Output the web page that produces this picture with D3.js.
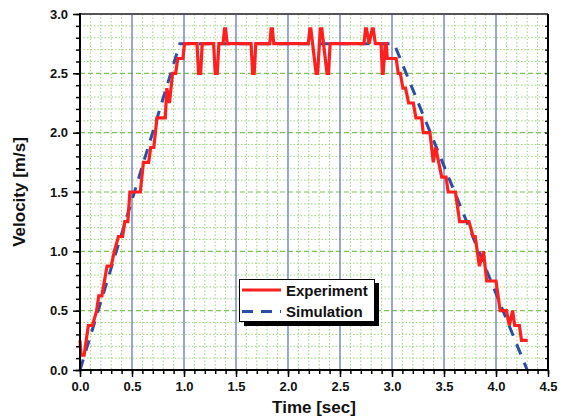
<!DOCTYPE html>
<html><head><meta charset="utf-8">
<script src="https://cdn.jsdelivr.net/npm/d3@7"></script>
<style>body{margin:0;background:#fff}svg{display:block;font-family:"Liberation Sans",Arial,sans-serif}</style>
</head><body><div id="chart"></div>
<script>
const expT = [0.00,0.01,0.04,0.06,0.08,0.12,0.16,0.18,0.21,0.26,0.30,0.33,0.37,0.41,0.43,0.46,0.48,0.58,0.61,0.66,0.68,0.71,0.74,0.82,0.835,0.86,0.89,0.92,0.94,0.99,1.005,
 1.125,1.14,1.16,1.175,1.285,1.30,1.32,1.335,1.375,1.39,1.40,1.415,1.645,1.66,1.675,1.69,1.825,1.838,1.85,1.863,
 2.195,2.21,2.22,2.27,2.285,2.31,2.325,2.375,2.39,2.405,2.73,2.745,2.755,2.78,2.81,2.82,2.84,2.895,2.907,2.915,2.935,2.945,2.955,
 3.04,3.06,3.08,3.105,3.13,3.16,3.205,3.23,3.285,3.30,3.365,3.397,3.42,3.478,3.52,3.54,3.61,3.65,3.74,3.78,3.80,3.84,3.88,3.91,4.00,4.04,4.10,4.128,4.16,4.18,4.225,4.245,4.305];
const expV = [0.25,0.125,0.125,0.25,0.375,0.375,0.5,0.625,0.625,0.875,0.875,1.0,1.125,1.125,1.25,1.25,1.5,1.5,1.75,1.75,1.875,1.875,2.125,2.125,2.375,2.25,2.5,2.5,2.625,2.625,2.75,
 2.75,2.5,2.5,2.75,2.75,2.5,2.5,2.75,2.75,2.875,2.875,2.75,2.75,2.5,2.5,2.75,2.75,2.875,2.875,2.75,
 2.75,2.875,2.875,2.5,2.5,2.875,2.875,2.5,2.5,2.75,2.75,2.875,2.875,2.75,2.875,2.875,2.75,2.75,2.5,2.5,2.75,2.75,2.625,
 2.625,2.5,2.5,2.375,2.375,2.25,2.25,2.125,2.125,2.0,2.0,1.75,1.875,1.625,1.625,1.5,1.5,1.25,1.25,1.125,1.125,0.875,1.0,0.75,0.75,0.5,0.5,0.375,0.5,0.375,0.375,0.25,0.25];
const simT = [0, 0.96, 3.02, 4.3];
const simV = [0, 2.75, 2.75, 0];
const xTicks = [0,0.5,1,1.5,2,2.5,3,3.5,4,4.5];
const yTicks = [0,0.5,1,1.5,2,2.5,3];
const minorStep = 0.1;
const seriesNames = ["Experiment","Simulation"];

const W=571,H=417, L=80,R=548,T=14,B=370;
const svg=d3.select("#chart").append("svg").attr("width",W).attr("height",H);
const x=d3.scaleLinear().domain([0,4.5]).range([L,R]);
const y=d3.scaleLinear().domain([0,3]).range([B,T]);

const xMinor=d3.range(0,4.5001,minorStep).map(v=>+v.toFixed(2));
const yMinor=d3.range(0,3.0001,minorStep).map(v=>+v.toFixed(2));
const isMajor=v=>Math.abs(v*2-Math.round(v*2))<1e-6;

const g=svg.append("g");
// minor grid
g.selectAll(".vx").data(xMinor.filter(v=>!isMajor(v))).join("line")
 .attr("x1",d=>x(d)).attr("x2",d=>x(d)).attr("y1",T).attr("y2",B)
 .attr("stroke","#9ad67a").attr("stroke-width",1).attr("stroke-dasharray","1.5,2");
g.selectAll(".hy").data(yMinor.filter(v=>!isMajor(v))).join("line")
 .attr("x1",L).attr("x2",R).attr("y1",d=>y(d)).attr("y2",d=>y(d))
 .attr("stroke","#9ad67a").attr("stroke-width",1).attr("stroke-dasharray","1.5,2");
// major grid
g.selectAll(".hm").data(yTicks.filter(v=>v>0&&v<3)).join("line")
 .attr("x1",L).attr("x2",R).attr("y1",d=>y(d)).attr("y2",d=>y(d))
 .attr("stroke","#7cc257").attr("stroke-width",1.2).attr("stroke-dasharray","5,3");
g.selectAll(".vm").data(xTicks.filter(v=>v>0&&v<4.5)).join("line")
 .attr("x1",d=>x(d)).attr("x2",d=>x(d)).attr("y1",T).attr("y2",B)
 .attr("stroke","#6f82c4").attr("stroke-width",1.4);

// series
const line=d3.line().x(d=>x(d[0])).y(d=>y(d[1]));
const simData=simT.map((t,i)=>[t,simV[i]]);
const expData=expT.map((t,i)=>[t,expV[i]]);
svg.append("path").attr("d",line(simData)).attr("fill","none")
 .attr("stroke","#2c4ea6").attr("stroke-width",3).attr("stroke-dasharray","11,9");
svg.append("path").attr("d",line(expData)).attr("fill","none")
 .attr("stroke","#ff1f1f").attr("stroke-width",3.2).attr("stroke-linejoin","miter");

// axes
const xAx=svg.append("g").attr("transform",`translate(0,${B})`);
xAx.call(d3.axisBottom(x).tickValues(xMinor).tickSize(4).tickFormat(""));
xAx.selectAll(".tick line").attr("stroke-width",1.5);
const xAxM=svg.append("g").attr("transform",`translate(0,${B})`)
 .call(d3.axisBottom(x).tickValues(xTicks).tickSize(7).tickPadding(5).tickFormat(d3.format(".1f")));
xAxM.selectAll(".tick line").attr("stroke-width",1.5);
xAxM.selectAll("text").attr("font-size",13).attr("font-weight","bold").attr("fill","#111").attr("font-family","Liberation Sans, Arial, sans-serif");
svg.selectAll(".domain").remove();

const yAx=svg.append("g").attr("transform",`translate(${L},0)`);
yAx.call(d3.axisLeft(y).tickValues(yMinor).tickSize(4).tickFormat(""));
yAx.selectAll(".tick line").attr("stroke-width",1.5);
const yAxM=svg.append("g").attr("transform",`translate(${L},0)`)
 .call(d3.axisLeft(y).tickValues(yTicks).tickSize(7).tickPadding(5).tickFormat(d3.format(".1f")));
yAxM.selectAll(".tick line").attr("stroke-width",1.5);
yAxM.selectAll("text").attr("font-size",13).attr("font-weight","bold").attr("fill","#111").attr("font-family","Liberation Sans, Arial, sans-serif");
svg.selectAll(".domain").remove();

// right axis ticks (inward)
const rAx=svg.append("g").attr("transform",`translate(${R},0)`)
 .call(d3.axisLeft(y).tickValues(yMinor).tickSize(3).tickFormat(""));
rAx.selectAll(".tick line").attr("stroke-width",1.2);
rAx.select(".domain").remove();

// frame
svg.append("line").attr("x1",L).attr("x2",R).attr("y1",T).attr("y2",T).attr("stroke","#555").attr("stroke-width",2);
svg.append("line").attr("x1",R).attr("x2",R).attr("y1",T).attr("y2",B).attr("stroke","#000").attr("stroke-width",2);
svg.append("line").attr("x1",L).attr("x2",L).attr("y1",T-1).attr("y2",B+1).attr("stroke","#000").attr("stroke-width",2);
svg.append("line").attr("x1",L-1).attr("x2",R+1).attr("y1",B).attr("y2",B).attr("stroke","#000").attr("stroke-width",2);

// titles
svg.append("text").attr("x",(L+R)/2).attr("y",413).attr("text-anchor","middle")
 .attr("font-size",17).attr("font-weight","bold").attr("fill","#111").text("Time [sec]");
svg.append("text").attr("transform",`translate(25,${(T+B)/2}) rotate(-90)`).attr("text-anchor","middle")
 .attr("font-size",17).attr("font-weight","bold").attr("fill","#111").text("Velocity [m/s]");

// legend
const lg=svg.append("g");
lg.append("rect").attr("x",244).attr("y",283).attr("width",135).attr("height",43).attr("fill","#000");
lg.append("rect").attr("x",239.5).attr("y",279.5).attr("width",135).attr("height",42).attr("fill","#fff").attr("stroke","#000").attr("stroke-width",1);
const colors=["#ff1f1f","#2c4ea6"], dashes=[null,"11,8"], ly=[290,311.5];
seriesNames.forEach((n,i)=>{
 lg.append("line").attr("x1",242).attr("x2",281).attr("y1",ly[i]).attr("y2",ly[i])
  .attr("stroke",colors[i]).attr("stroke-width",3).attr("stroke-dasharray",dashes[i]);
 lg.append("text").attr("x",286).attr("y",ly[i]+5.5).attr("font-size",15).attr("font-weight","bold")
  .attr("fill","#111").text(n);
});
</script></body></html>
